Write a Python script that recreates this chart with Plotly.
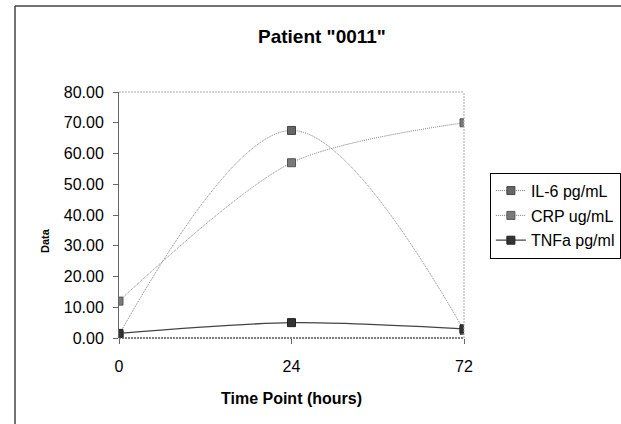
import plotly.graph_objects as go

time_points = ["0", "24", "72"]
il6 = [1.0, 67.5, 2.5]
crp = [12.0, 57.0, 70.0]
tnfa = [1.5, 5.0, 3.0]
y_ticks = [0, 10, 20, 30, 40, 50, 60, 70, 80]

FONT = "Arial, Liberation Sans, sans-serif"

fig = go.Figure()
fig.add_trace(go.Scatter(
    x=time_points, y=il6, name="IL-6 pg/mL", mode="lines+markers", legendgroup="a",
    line=dict(color="#777777", width=1, dash="1px,1px", shape="spline", smoothing=1.0),
    marker=dict(symbol="square", size=8, color="#666666", line=dict(color="#444444", width=1)),
))
fig.add_trace(go.Scatter(
    x=time_points, y=crp, name="CRP ug/mL", mode="lines+markers", legendgroup="b",
    line=dict(color="#777777", width=1, dash="1px,1px", shape="spline", smoothing=0.8),
    marker=dict(symbol="square", size=8, color="#7a7a7a", line=dict(color="#555555", width=1)),
))
fig.add_trace(go.Scatter(
    x=time_points, y=tnfa, name="TNFa pg/ml", mode="lines+markers", legendgroup="c",
    line=dict(color="#444444", width=1.3, shape="spline", smoothing=0.8),
    marker=dict(symbol="square", size=8, color="#333333", line=dict(color="#222222", width=1)),
))

TICKFONT = dict(family=FONT, size=16, color="black")

fig.update_layout(
    width=621, height=424,
    margin=dict(l=119, r=157, t=92, b=86, autoexpand=False),
    paper_bgcolor="white", plot_bgcolor="white",
    font=dict(family=FONT, size=16, color="black"),
    title=dict(text='Patient "0011"', x=(258 - 119) / 345, xref="paper", xanchor="left",
               y=1 - 36 / 424, yanchor="middle",
               font=dict(family=FONT, size=19, color="black", weight="bold")),
    showlegend=True,
    legend=dict(x=1.075, y=0.672, xanchor="left", yanchor="top",
                bordercolor="black", borderwidth=1, bgcolor="white",
                font=dict(family=FONT, size=16), tracegroupgap=1, itemwidth=30),
    xaxis=dict(type="category", categoryorder="array", categoryarray=time_points,
               range=[0, 2], showgrid=False, zeroline=False, showline=False,
               ticks="outside", ticklen=5, tickcolor="#666666",
               ticklabelstandoff=9, tickfont=TICKFONT,
               title=dict(text="Time Point (hours)", standoff=18,
                          font=dict(family=FONT, size=16, color="black", weight="bold"))),
    xaxis2=dict(type="category", categoryorder="array", categoryarray=time_points,
                range=[0, 2], overlaying="x", side="bottom", showgrid=False, zeroline=False,
                showline=False, ticks="inside", ticklen=5, tickcolor="#666666",
                showticklabels=False),
    yaxis=dict(range=[0, 80], tickvals=y_ticks, tickformat=".2f",
               showgrid=False, zeroline=False, showline=True, linecolor="#666666", linewidth=1,
               ticks="outside", ticklen=5, tickcolor="#666666",
               ticklabelstandoff=6, tickfont=TICKFONT),
    yaxis2=dict(range=[0, 80], tickvals=y_ticks, overlaying="y", side="left",
                showgrid=False, zeroline=False, showline=False,
                ticks="inside", ticklen=5, tickcolor="#666666", showticklabels=False),
)

# y-axis title (rendered small, as in the reference)
fig.add_annotation(text="<b>Data</b>", textangle=-90, xref="paper", yref="paper",
                   x=(45 - 119) / 345, y=(338 - 241) / 246, xanchor="center", yanchor="middle",
                   showarrow=False, font=dict(family=FONT, size=11, color="black"))

# plot frame: dashed top/right, dashed dark bottom
fig.add_shape(type="line", xref="paper", yref="paper", x0=0, x1=1, y0=1, y1=1,
              line=dict(color="#aaaaaa", width=1, dash="2px,1px"))
fig.add_shape(type="line", xref="paper", yref="paper", x0=1, x1=1, y0=0, y1=1,
              line=dict(color="#aaaaaa", width=1, dash="2px,1px"))
fig.add_shape(type="line", xref="paper", yref="paper", x0=0, x1=1, y0=0, y1=0,
              line=dict(color="#555555", width=1.5, dash="2px,1px"))

# outer chart border (top and left visible)
fig.add_shape(type="line", xref="paper", yref="paper",
              x0=(15 - 119) / 345, x1=1.6, y0=(338 - 6) / 246, y1=(338 - 6) / 246,
              line=dict(color="#444444", width=1.5))
fig.add_shape(type="line", xref="paper", yref="paper",
              x0=(15 - 119) / 345, x1=(15 - 119) / 345, y0=(338 - 6) / 246, y1=-0.5,
              line=dict(color="#444444", width=1.5))

fig.write_html("out.html")
